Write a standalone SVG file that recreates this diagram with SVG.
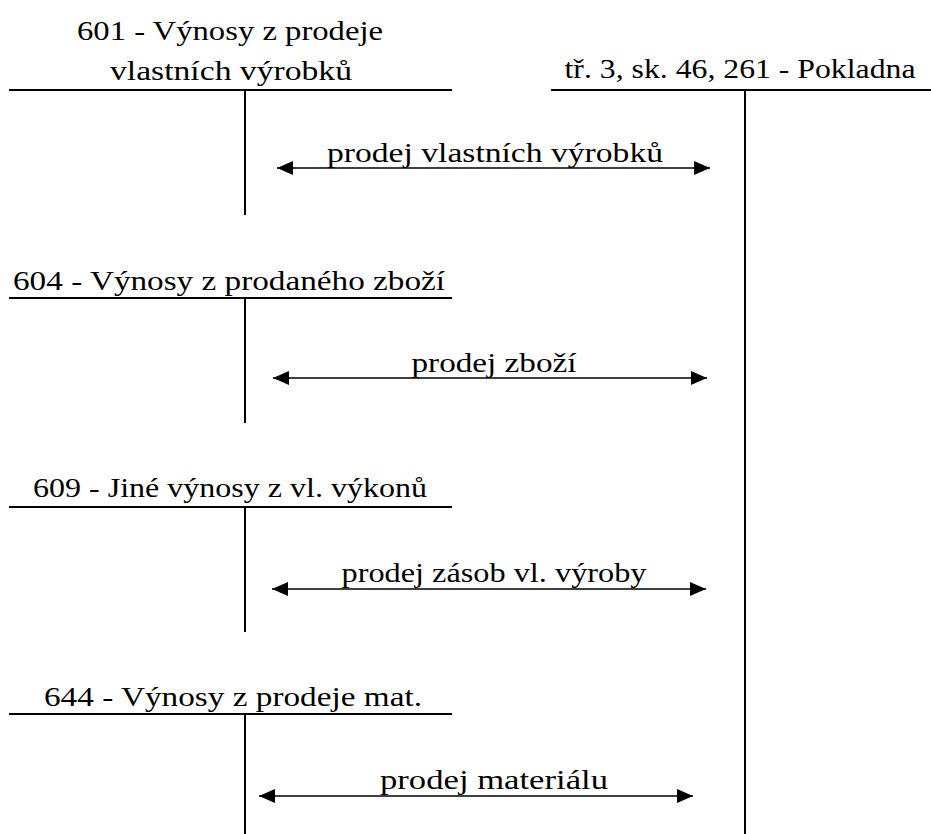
<svg xmlns="http://www.w3.org/2000/svg" width="931" height="834" viewBox="0 0 931 834">
<style>
text{font-family:"Liberation Serif","DejaVu Serif",serif;font-size:27px;fill:#000;text-anchor:middle}
.t{stroke:#000;stroke-width:2;fill:none}
.a{stroke:#000;stroke-width:1.5;fill:none;marker-start:url(#ah);marker-end:url(#ah)}
</style>
<defs>
<marker id="ah" viewBox="0 0 16 14" refX="16" refY="7" markerWidth="16" markerHeight="14" markerUnits="userSpaceOnUse" orient="auto-start-reverse">
<path d="M0,0 L16,7 L0,14 Z" fill="#000"/>
</marker>
</defs>
<rect width="931" height="834" fill="#fff"/>
<g id="acc601">
<text x="230" y="40" textLength="306" lengthAdjust="spacingAndGlyphs">601 - Výnosy z prodeje</text>
<text x="231" y="80" textLength="242" lengthAdjust="spacingAndGlyphs">vlastních výrobků</text>
<path class="t" d="M9,90 H452 M245,90 V215"/>
</g>
<g id="acc261">
<text x="740" y="78" textLength="351" lengthAdjust="spacingAndGlyphs">tř. 3, sk. 46, 261 - Pokladna</text>
<path class="t" d="M551,90 H931 M745,90 V834"/>
</g>
<g id="acc604">
<text x="229" y="290" textLength="432" lengthAdjust="spacingAndGlyphs">604 - Výnosy z prodaného zboží</text>
<path class="t" d="M9,298 H452 M245,298 V423"/>
</g>
<g id="acc609">
<text x="230" y="497" textLength="394" lengthAdjust="spacingAndGlyphs">609 - Jiné výnosy z vl. výkonů</text>
<path class="t" d="M9,507 H452 M245,507 V632"/>
</g>
<g id="acc644">
<text x="233" y="706" textLength="378" lengthAdjust="spacingAndGlyphs">644 - Výnosy z prodeje mat.</text>
<path class="t" d="M9,714 H452 M245,714 V834"/>
</g>
<g id="connectors">
<path class="a" d="M277,168 H710"/>
<text x="495" y="162" textLength="336" lengthAdjust="spacingAndGlyphs">prodej vlastních výrobků</text>
<path class="a" d="M273,378 H707"/>
<text x="494" y="372" textLength="165" lengthAdjust="spacingAndGlyphs">prodej zboží</text>
<path class="a" d="M272,589 H706"/>
<text x="494" y="582" textLength="305" lengthAdjust="spacingAndGlyphs">prodej zásob vl. výroby</text>
<path class="a" d="M259,796 H693"/>
<text x="494" y="789" textLength="228" lengthAdjust="spacingAndGlyphs">prodej materiálu</text>
</g>
</svg>
